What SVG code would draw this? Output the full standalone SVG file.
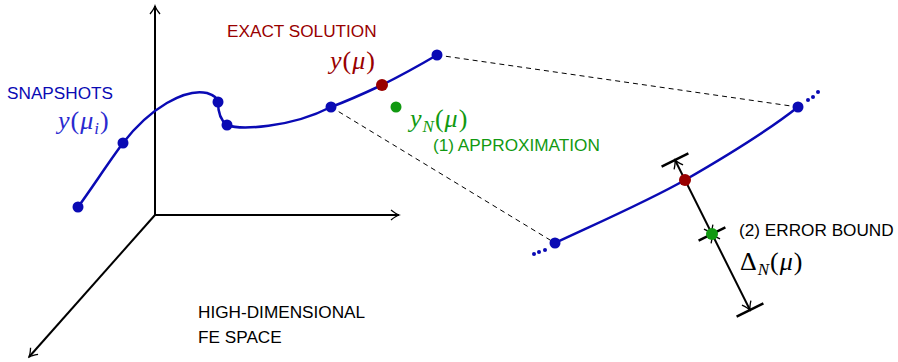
<svg xmlns="http://www.w3.org/2000/svg" width="898" height="362" viewBox="0 0 898 362">
<defs>
<style>
.ax{stroke:#000;stroke-width:2;fill:none}
.dash{stroke:#000;stroke-width:1;stroke-dasharray:5,4;fill:none}
.curve{stroke:#0a0ab4;stroke-width:2.5;fill:none}
.blue{fill:#0a0ab4}
.red{fill:#990000}
.green{fill:#119911}
.lbl{font-family:"Liberation Sans",Arial,sans-serif;font-size:17.2px}
.math{font-family:"Liberation Serif","Times New Roman",serif;font-size:26px;letter-spacing:1px}
.it{font-style:italic}
.bar{stroke:#000;stroke-width:2.5;fill:none}
</style>
<marker id="ah" viewBox="-10 -6 12 12" markerWidth="12" markerHeight="12" refX="0" refY="0" orient="auto-start-reverse" markerUnits="userSpaceOnUse">
<path d="M-8,-5 Q-3,-1 0,0 Q-3,1 -8,5" stroke="#000" stroke-width="1.3" fill="none"/>
</marker>
</defs>
<g id="axes">
<line class="ax" x1="155" y1="215" x2="155" y2="6" marker-end="url(#ah)"/>
<line class="ax" x1="155" y1="215" x2="399" y2="215" marker-end="url(#ah)"/>
<line class="ax" x1="155" y1="215" x2="29" y2="357" marker-end="url(#ah)"/>
</g>
<g id="connectors">
<line class="dash" x1="437" y1="55" x2="798" y2="107"/>
<line class="dash" x1="331" y1="107" x2="555" y2="243"/>
</g>
<g id="manifold">
<path class="curve" d="M78,207 C92,188 108,163 123,143 C150,108 185,88 207,93 C216,96 218,100 218,102 C218,112 220,120 227,125 C240,130 290,128 331,107 C350,100 365,93 382,85 C400,76 420,65 437,55"/>
<circle class="blue" cx="78" cy="207" r="5.5"/>
<circle class="blue" cx="123" cy="143" r="5.5"/>
<circle class="blue" cx="218" cy="102" r="5.5"/>
<circle class="blue" cx="227" cy="125" r="5.5"/>
<circle class="blue" cx="331" cy="107" r="5.5"/>
<circle class="blue" cx="437" cy="55" r="5.5"/>
<circle class="red" cx="382" cy="85" r="6"/>
<circle class="green" cx="396" cy="107" r="5.5"/>
</g>
<g id="reduced">
<path class="curve" d="M555,243 C600,222 650,200 685,180 C725,157 765,133 798,107"/>
<circle class="blue" cx="534" cy="254" r="2"/>
<circle class="blue" cx="539" cy="252" r="2"/>
<circle class="blue" cx="545" cy="250" r="2"/>
<circle class="blue" cx="808" cy="100" r="2"/>
<circle class="blue" cx="813" cy="97" r="2"/>
<circle class="blue" cx="818" cy="92" r="2"/>
<circle class="blue" cx="555" cy="243" r="5.5"/>
<circle class="blue" cx="798" cy="107" r="5.5"/>
</g>
<g id="errorbound">
<line class="bar" x1="661.6" y1="166.7" x2="688.4" y2="153.3"/>
<line class="bar" x1="698.6" y1="240.7" x2="725.4" y2="227.3"/>
<line class="bar" x1="736.6" y1="316.7" x2="763.4" y2="303.3"/>
<line class="ax" x1="675" y1="160" x2="712" y2="234" marker-start="url(#ah)" marker-end="url(#ah)"/>
<line class="ax" x1="712" y1="234" x2="750" y2="310" marker-start="url(#ah)" marker-end="url(#ah)"/>
<circle class="red" cx="685" cy="180" r="6"/>
<circle class="green" cx="712" cy="234" r="6"/>
</g>
<g id="labels">
<text class="lbl" x="7" y="99" fill="#0a0ab4">SNAPSHOTS</text>
<text class="math" x="58" y="129" fill="#2a2ad0"><tspan class="it">y</tspan>(<tspan class="it">μ</tspan><tspan class="it" font-size="17" dy="5">i</tspan><tspan dy="-5">)</tspan></text>
<text class="lbl" x="227" y="37" fill="#990000">EXACT SOLUTION</text>
<text class="math" x="330" y="69" fill="#990000"><tspan class="it">y</tspan>(<tspan class="it">μ</tspan>)</text>
<text class="math" x="410" y="127" fill="#119911"><tspan class="it">y</tspan><tspan class="it" font-size="17" dy="5">N</tspan><tspan dy="-5">(</tspan><tspan class="it">μ</tspan>)</text>
<text class="lbl" x="433" y="151" fill="#119911">(1) APPROXIMATION</text>
<text class="lbl" x="739" y="236" fill="#000">(2) ERROR BOUND</text>
<text class="math" x="740" y="270" fill="#000">Δ<tspan class="it" font-size="17" dy="5">N</tspan><tspan dy="-5">(</tspan><tspan class="it">μ</tspan>)</text>
<text class="lbl" x="198" y="318" fill="#000">HIGH-DIMENSIONAL</text>
<text class="lbl" x="198" y="343" fill="#000">FE SPACE</text>
</g>
</svg>
